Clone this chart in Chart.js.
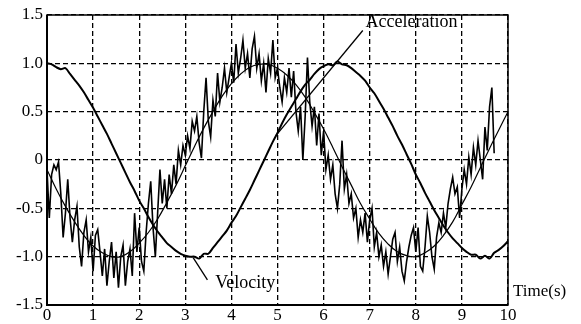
<!DOCTYPE html>
<html>
<head>
<meta charset="utf-8">
<title>Velocity and acceleration</title>
<script src="https://cdn.jsdelivr.net/npm/chart.js@4.4.0/dist/chart.umd.min.js"></script>
<style>
  html, body { margin: 0; padding: 0; background: #fff; }
  canvas { display: block; }
</style>
</head>
<body>
<canvas id="chart" width="581" height="324"></canvas>
<script>
// Axis ticks
var xTicks = [0, 1, 2, 3, 4, 5, 6, 7, 8, 9, 10];
var yTicks = [-1.5, -1.0, -0.5, 0, 0.5, 1.0, 1.5];

// Velocity, one sample every 0.1 s from 0 to 10 s
var velocityStep = 0.1;
var velocity = [
  1.00, 0.99, 0.96, 0.94, 0.95, 0.89, 0.83, 0.77, 0.70, 0.62,
  0.54, 0.45, 0.36, 0.27, 0.17, 0.07, -0.03, -0.13, -0.23, -0.32,
  -0.42, -0.50, -0.59, -0.67, -0.74, -0.80, -0.86, -0.90, -0.94, -0.97,
  -0.99, -1.00, -1.00, -1.02, -0.97, -0.97, -0.91, -0.85, -0.79, -0.73,
  -0.65, -0.58, -0.49, -0.40, -0.31, -0.21, -0.11, -0.01, 0.09, 0.19,
  0.28, 0.38, 0.47, 0.55, 0.63, 0.71, 0.78, 0.83, 0.89, 0.94,
  0.97, 0.99, 0.98, 1.02, 0.99, 0.98, 0.95, 0.91, 0.87, 0.82,
  0.75, 0.69, 0.61, 0.53, 0.44, 0.35, 0.25, 0.16, 0.06, -0.04,
  -0.15, -0.24, -0.34, -0.43, -0.52, -0.60, -0.68, -0.75, -0.81, -0.86,
  -0.91, -0.95, -0.98, -0.98, -1.02, -0.99, -1.02, -0.96, -0.93, -0.89,
  -0.84
];

// Smoothed acceleration, one sample every 0.2 s
var accelFitStep = 0.2;
var accelFit = [
  -0.10, -0.30, -0.48, -0.64, -0.78, -0.89, -0.96, -1.00, -1.00, -0.95,
  -0.86, -0.75, -0.61, -0.44, -0.26, -0.06, 0.14, 0.33, 0.50, 0.66,
  0.79, 0.89, 0.96, 0.99, 0.99, 0.95, 0.88, 0.78, 0.65, 0.49,
  0.32, 0.13, -0.07, -0.26, -0.45, -0.61, -0.76, -0.87, -0.95, -0.99,
  -1.00, -0.96, -0.89, -0.78, -0.64, -0.46, -0.28, -0.08, 0.12, 0.31,
  0.50
];

// Measured acceleration, one sample every 0.05 s up to 9.7 s
var accelStep = 0.05;
var accelMeasured = [
  // 0 - 1 s
  -0.10, -0.60, -0.15, -0.05, -0.10, -0.02, -0.35, -0.80, -0.55, -0.20,
  -0.60, -0.85, -0.62, -0.48, -0.90, -1.10, -0.75, -0.62, -0.95, -0.80,
  // 1 - 2 s
  -1.15, -0.78, -0.72, -0.95, -1.20, -0.92, -1.30, -1.05, -0.85, -1.22,
  -0.95, -1.32, -1.00, -0.88, -1.30, -1.05, -0.92, -1.20, -0.55, -0.95,
  // 2 - 3 s
  -0.70, -1.05, -1.15, -0.75, -0.45, -0.22, -0.70, -1.00, -0.55, -0.10,
  -0.45, -0.20, -0.50, -0.15, -0.35, -0.05, -0.25, 0.10, -0.05, 0.15,
  // 3 - 4 s
  0.05, 0.25, 0.12, 0.40, 0.30, 0.45, 0.18, 0.02, 0.50, 0.85,
  0.40, 0.24, 0.62, 0.45, 0.90, 0.60, 0.75, 0.95, 0.70, 0.85,
  // 4 - 5 s
  1.00, 0.80, 1.20, 0.90, 1.05, 1.24, 0.95, 1.10, 0.85, 1.15,
  1.28, 0.95, 1.10, 0.82, 1.00, 0.70, 1.05, 0.90, 1.24, 0.85,
  // 5 - 6 s
  0.95, 0.75, 0.60, 0.85, 0.70, 0.95, 0.65, 0.92, 0.50, 0.30,
  0.55, 0.00, 0.45, 1.06, 0.60, 0.35, 0.55, 0.15, 0.48, 0.05,
  // 6 - 7 s
  0.30, -0.10, 0.05, -0.20, -0.05, -0.35, -0.50, -0.25, 0.20, -0.30,
  -0.15, -0.45, -0.35, -0.60, -0.50, -0.80, -0.62, -0.75, -0.55, -0.85,
  // 7 - 8 s
  -0.62, -0.50, -0.90, -0.75, -1.00, -0.88, -1.10, -0.95, -1.18, -1.00,
  -0.82, -0.75, -1.05, -0.90, -1.15, -1.25, -1.05, -0.90, -0.78, -0.70,
  // 8 - 9 s
  -0.95, -0.70, -1.10, -1.15, -0.90, -0.58, -0.75, -1.00, -1.13, -0.80,
  -0.65, -0.75, -0.55, -0.70, -0.45, -0.30, -0.18, -0.35, -0.28, -0.60,
  // 9 - 9.7 s
  -0.30, -0.10, -0.25, 0.03, -0.15, 0.13, -0.05, 0.20, 0.00, -0.20,
  0.34, 0.10, 0.55, 0.75, 0.07
];

// Callout text and pointer ends, in axis units
var notes = [
  { text: 'Velocity', at: [3.65, -1.27], from: [3.17, -1.01], to: [3.48, -1.24] },
  { text: 'Acceleration', at: [6.91, 1.42], from: [4.96, 0.25], to: [6.85, 1.34] }
];
var xTitle = 'Time(s)';

function toPoints(values, step) {
  return values.map(function (v, i) {
    return { x: Math.round(i * step * 100) / 100, y: v };
  });
}

var serif = '"Liberation Serif", "Times New Roman", serif';

// plot frame, callouts and the time label
var decorations = {
  id: 'decorations',
  beforeDatasetsDraw: function (chart) {
    var a = chart.chartArea, ctx = chart.ctx;
    ctx.save();
    ctx.strokeStyle = '#000';
    ctx.lineWidth = 1.5;
    ctx.strokeRect(a.left, a.top, a.right - a.left, a.bottom - a.top);
    ctx.lineWidth = 2;
    ctx.beginPath();
    ctx.moveTo(a.left, a.top);
    ctx.lineTo(a.left, a.bottom);
    ctx.lineTo(a.right, a.bottom);
    ctx.stroke();
    ctx.restore();
  },
  afterDatasetsDraw: function (chart) {
    var xs = chart.scales.x, ys = chart.scales.y, ctx = chart.ctx;
    ctx.save();
    ctx.strokeStyle = '#000';
    ctx.fillStyle = '#000';
    ctx.lineWidth = 1.3;
    ctx.font = '18px ' + serif;
    ctx.textBaseline = 'middle';
    ctx.textAlign = 'left';
    notes.forEach(function (n) {
      ctx.beginPath();
      ctx.moveTo(xs.getPixelForValue(n.from[0]), ys.getPixelForValue(n.from[1]));
      ctx.lineTo(xs.getPixelForValue(n.to[0]), ys.getPixelForValue(n.to[1]));
      ctx.stroke();
      ctx.fillText(n.text, xs.getPixelForValue(n.at[0]), ys.getPixelForValue(n.at[1]));
    });
    ctx.font = '17px ' + serif;
    ctx.fillText(xTitle, chart.chartArea.right + 5, ys.getPixelForValue(-1.36));
    ctx.restore();
  }
};

new Chart(document.getElementById('chart'), {
  type: 'line',
  data: {
    datasets: [
      {
        label: 'Acceleration (measured)',
        data: toPoints(accelMeasured, accelStep),
        borderColor: '#000',
        borderWidth: 1.6,
        pointRadius: 0,
        tension: 0
      },
      {
        label: 'Acceleration (fit)',
        data: toPoints(accelFit, accelFitStep),
        borderColor: '#000',
        borderWidth: 1.2,
        pointRadius: 0,
        tension: 0.4
      },
      {
        label: 'Velocity',
        data: toPoints(velocity, velocityStep),
        borderColor: '#000',
        borderWidth: 2,
        pointRadius: 0,
        tension: 0.3
      }
    ]
  },
  options: {
    responsive: false,
    animation: false,
    events: [],
    layout: { padding: { left: 0, top: 15, right: 73, bottom: 0 } },
    plugins: {
      legend: { display: false },
      tooltip: { enabled: false }
    },
    scales: {
      x: {
        type: 'linear',
        min: 0,
        max: 10,
        afterBuildTicks: function (s) { s.ticks = xTicks.map(function (v) { return { value: v }; }); },
        afterFit: function (s) { s.height = 19; },
        grid: { color: '#000', lineWidth: 1.3, drawTicks: false },
        border: { display: false, dash: [5, 3] },
        ticks: {
          color: '#000',
          padding: 0,
          maxRotation: 0,
          font: { family: serif, size: 17 },
          callback: function (v) { return String(v); }
        }
      },
      y: {
        type: 'linear',
        min: -1.5,
        max: 1.5,
        afterBuildTicks: function (s) { s.ticks = yTicks.map(function (v) { return { value: v }; }); },
        afterFit: function (s) { s.width = 47; },
        grid: { color: '#000', lineWidth: 1.3, drawTicks: false },
        border: { display: false, dash: [5, 3] },
        ticks: {
          color: '#000',
          padding: 4,
          font: { family: serif, size: 17 },
          callback: function (v) { return v === 0 ? '0' : v.toFixed(1); }
        }
      }
    }
  },
  plugins: [decorations]
});
</script>
</body>
</html>
